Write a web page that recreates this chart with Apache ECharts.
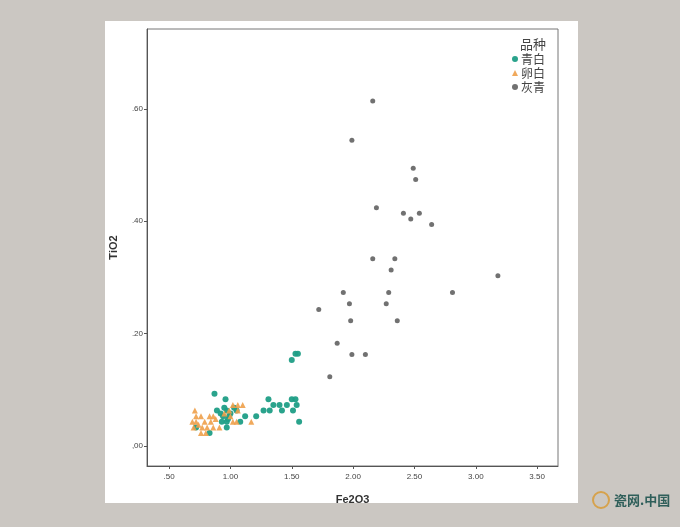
<!DOCTYPE html>
<html>
<head>
<meta charset="utf-8">
<script src="https://cdn.jsdelivr.net/npm/echarts@6/dist/echarts.min.js"></script>
<style>
html,body{margin:0;padding:0;background:#cbc7c2;}
#c{width:680px;height:527px;}
</style>
</head>
<body>
<div id="c"></div>
<script>
const seriesNames = ['青白', '卵白', '灰青'];
const xTicks = [0.5, 1.0, 1.5, 2.0, 2.5, 3.0, 3.5];
const yTicks = [0, 0.2, 0.4, 0.6];

const qingbai = [
  [1.50,0.153],[1.53,0.164],[1.55,0.164],[0.87,0.093],[0.96,0.083],[1.31,0.083],[1.50,0.083],[1.53,0.083],
  [1.35,0.073],[1.40,0.073],[1.46,0.073],[1.54,0.073],[0.89,0.063],[0.97,0.063],[1.05,0.063],[1.27,0.063],
  [1.32,0.063],[1.42,0.063],[1.51,0.063],[0.94,0.053],[0.99,0.053],[1.12,0.053],[1.21,0.053],[0.93,0.043],
  [0.97,0.043],[1.08,0.043],[1.56,0.043],[0.72,0.033],[0.97,0.033],[0.83,0.023],[0.95,0.068],[1.00,0.058],
  [0.92,0.058],[1.03,0.068],[0.98,0.048]
];
const luanbai = [
  [0.71,0.063],[1.02,0.073],[1.06,0.073],[1.10,0.073],[0.72,0.053],[0.76,0.053],[0.83,0.053],[0.86,0.053],
  [0.69,0.043],[0.72,0.043],[0.79,0.043],[0.84,0.043],[1.02,0.043],[1.05,0.043],[1.17,0.043],[0.70,0.033],
  [0.77,0.033],[0.81,0.033],[0.86,0.033],[0.91,0.033],[0.76,0.023],[0.80,0.023],[0.99,0.063],[1.06,0.063],
  [0.74,0.038],[0.88,0.048],[1.00,0.053],[0.95,0.058]
];
const huiqing = [
  [2.16,0.614],[1.99,0.544],[2.49,0.494],[2.51,0.474],[2.19,0.424],[2.41,0.414],[2.54,0.414],[2.47,0.404],
  [2.64,0.394],[2.16,0.333],[2.34,0.333],[2.31,0.313],[3.18,0.303],[1.92,0.273],[2.29,0.273],[2.81,0.273],
  [1.97,0.253],[2.27,0.253],[1.72,0.243],[1.98,0.223],[2.36,0.223],[1.87,0.183],[1.99,0.163],[2.10,0.163],
  [1.81,0.123]
];

const colors = ['#1f9e86', '#eea04a', '#4d4d4d'];
const chart = echarts.init(document.getElementById('c'));
const labelFont = '"Liberation Sans", Arial, sans-serif';

chart.setOption({
  backgroundColor: '#cbc7c2',
  animation: false,
  graphic: [
    {type:'rect', z:-10, shape:{x:105, y:21, width:473, height:482}, style:{fill:'#ffffff'}},
    {type:'circle', shape:{cx:601, cy:500, r:8}, style:{fill:'none', stroke:'#d6a24c', lineWidth:2}},
    {type:'text', style:{x:614, y:500, text:'瓷网.中国', fill:'#2f5f5a', font:'bold 13px "Noto Sans CJK SC"', textVerticalAlign:'middle'}}
  ],
  title: {
    text: '品种', left: 515, top: 33,
    textStyle: {fontSize: 13, fontWeight: 'normal', color: '#444', fontFamily: '"Noto Sans CJK SC"'}
  },
  legend: {
    orient: 'vertical', left: 512, top: 53, padding: 0,
    itemWidth: 6, itemHeight: 6, itemGap: 2,
    textStyle: {fontSize: 12, lineHeight: 12, color: '#444', fontFamily: '"Noto Sans CJK SC"', padding: [0,0,0,-2]},
    data: [
      {name: seriesNames[0], icon: 'circle'},
      {name: seriesNames[1], icon: 'triangle'},
      {name: seriesNames[2], icon: 'circle'}
    ]
  },
  grid: {left: 147, right: 122, top: 29, bottom: 61, show: true, borderColor: '#777', borderWidth: 1},
  xAxis: {
    type: 'value', min: 0.32, max: 3.67,
    name: 'Fe2O3', nameLocation: 'middle', nameGap: 28,
    nameTextStyle: {fontSize: 11, fontWeight: 'bold', color: '#333', fontFamily: labelFont},
    axisLine: {show: true, onZero: false, lineStyle: {color: '#555'}},
    axisTick: {show: true, length: 3, customValues: xTicks, lineStyle: {color: '#555'}},
    axisLabel: {customValues: xTicks, margin: 7, fontSize: 8, color: '#444', fontFamily: labelFont,
      formatter: v => v < 1 ? v.toFixed(2).replace(/^0/, '') : v.toFixed(2)},
    splitLine: {show: false}
  },
  yAxis: {
    type: 'value', min: -0.0356, max: 0.742,
    name: 'TiO2', nameLocation: 'middle', nameGap: 28, nameRotate: 90,
    nameTextStyle: {fontSize: 11, fontWeight: 'bold', color: '#333', fontFamily: labelFont},
    axisLine: {show: true, onZero: false, lineStyle: {color: '#555'}},
    axisTick: {show: true, length: 3, customValues: yTicks, lineStyle: {color: '#555'}},
    axisLabel: {customValues: yTicks, margin: 4, fontSize: 8, color: '#444', fontFamily: labelFont,
      formatter: v => v === 0 ? ',00' : v.toFixed(2).replace(/^0/, '')},
    splitLine: {show: false}
  },
  series: [
    {name: seriesNames[0], type: 'scatter', data: qingbai, symbol: 'circle', symbolSize: 6, itemStyle: {color: colors[0], opacity: 0.95}},
    {name: seriesNames[1], type: 'scatter', data: luanbai, symbol: 'triangle', symbolSize: 6, itemStyle: {color: colors[1], opacity: 0.9}},
    {name: seriesNames[2], type: 'scatter', data: huiqing, symbol: 'circle', symbolSize: 5, itemStyle: {color: colors[2]}}
  ]
});
</script>
</body>
</html>
